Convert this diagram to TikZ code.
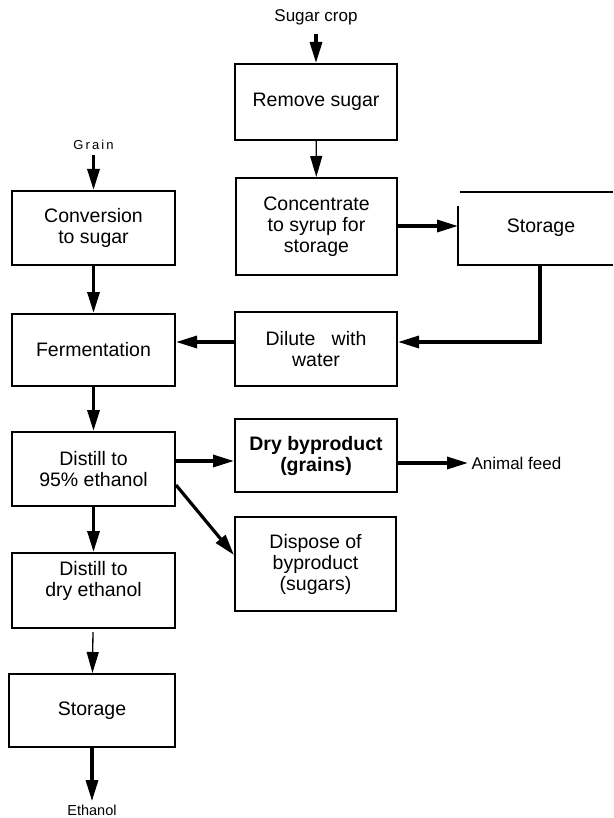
\documentclass[tikz,border=0pt]{standalone}
\usepackage{fontspec}
\setmainfont{Liberation Sans}
\usetikzlibrary{arrows.meta}

\begin{document}
\begin{tikzpicture}[x=1pt,y=-1pt,
  box/.style={draw,line width=2pt,align=center,inner sep=2pt,
    font=\fontsize{19.5}{21}\selectfont},
  lbl/.style={font=\fontsize{17}{19}\selectfont},
  big/.style={line width=3.2pt,-{Triangle[length=21pt,width=12pt]}},
  thin/.style={line width=1.3pt,-{Triangle[length=21pt,width=12pt]}}]
\useasboundingbox (0,0) rectangle (613,818);
% sugar crop goes down the right hand column, grain down the left,
% and the two meet at the fermentation step
\node[lbl](sc) at (316,17){Sugar crop};
\node[box,minimum width=162pt,minimum height=76pt](rs) at (316,102){Remove sugar};
\node[box,minimum width=161pt,minimum height=97pt](cs) at (316.5,226.5){Concentrate\\to syrup for\\storage};
% storage tank, open on the right
\coordinate(s1a) at (460,192);
\coordinate(s1b) at (458,206);
\coordinate(s1c) at (458,265);
\coordinate(s1d) at (540,265);
\draw[line width=1.6pt] (s1a) -- (613,192);
\draw[line width=1.6pt] (s1b) -- (s1c) -- (613,265);
\node[box,draw=none](st1) at (541,228){Storage};
\node[box,minimum width=162pt,minimum height=74pt](dw) at (316,349){Dilute~~~with\\water};
\coordinate(dwa) at ([yshift=7pt]dw.east);
\coordinate(dwb) at ([yshift=7pt]dw.west);
\node[lbl,font=\fontsize{13}{15}\selectfont](gr) at (93.5,145){G\,r\,a\,i\,n};
\node[box,minimum width=163pt,minimum height=74pt](cv) at (93.5,228){Conversion\\to sugar};
\node[box,minimum width=163pt,minimum height=72pt](fm) at (93.5,350){Fermentation};
\node[box,minimum width=163pt,minimum height=74pt](d95) at (93.5,469){Distill to\\95\% ethanol};
\node[box,minimum width=162pt,minimum height=73pt,font=\fontsize{19.5}{21}\selectfont\bfseries](dry) at (316,455.5){Dry byproduct\\(grains)};
\node[lbl,anchor=west](af) at (468,463){Animal feed};
\node[box,minimum width=161pt,minimum height=94pt](dp) at (315.5,564){\\[-6pt]Dispose of\\byproduct\\(sugars)};
\node[box,minimum width=163pt,minimum height=75pt](dde) at (93.5,590.5){Distill to\\dry ethanol\\[2pt]};
\node[box,minimum width=166pt,minimum height=73pt](st2) at (92,710.5){Storage};
\node[lbl,font=\fontsize{14.5}{16}\selectfont](et) at (92,810){Ethanol};
% connectors
\draw[big,shorten <=6pt] (sc) -- (rs);
\draw[thin] (rs) -- (cs);
\draw[big] (cs.east |- 0,226) -- (s1c |- 0,226);
\draw[big] (s1d) |- (dwa);
\draw[big] (dwb) -- (dwb -| fm.east);
\draw[big,shorten <=2pt] (gr) -- (cv);
\draw[big] (cv) -- (fm);
\draw[big] (fm) -- (d95);
\coordinate(d1) at ([yshift=8pt]d95.east);
\draw[big] (d1) -- (d1 -| dry.west);
\draw[big] (dry.east |- af.west) -- (af.west);
\draw[big] ([yshift=-16pt]d95.east) -- ([yshift=9pt]dp.west);
\draw[big] (d95) -- (dde);
\draw[thin,shorten <=3pt] (dde) -- (st2);
\draw[big] (st2) -- (et);
\end{tikzpicture}
\end{document}
